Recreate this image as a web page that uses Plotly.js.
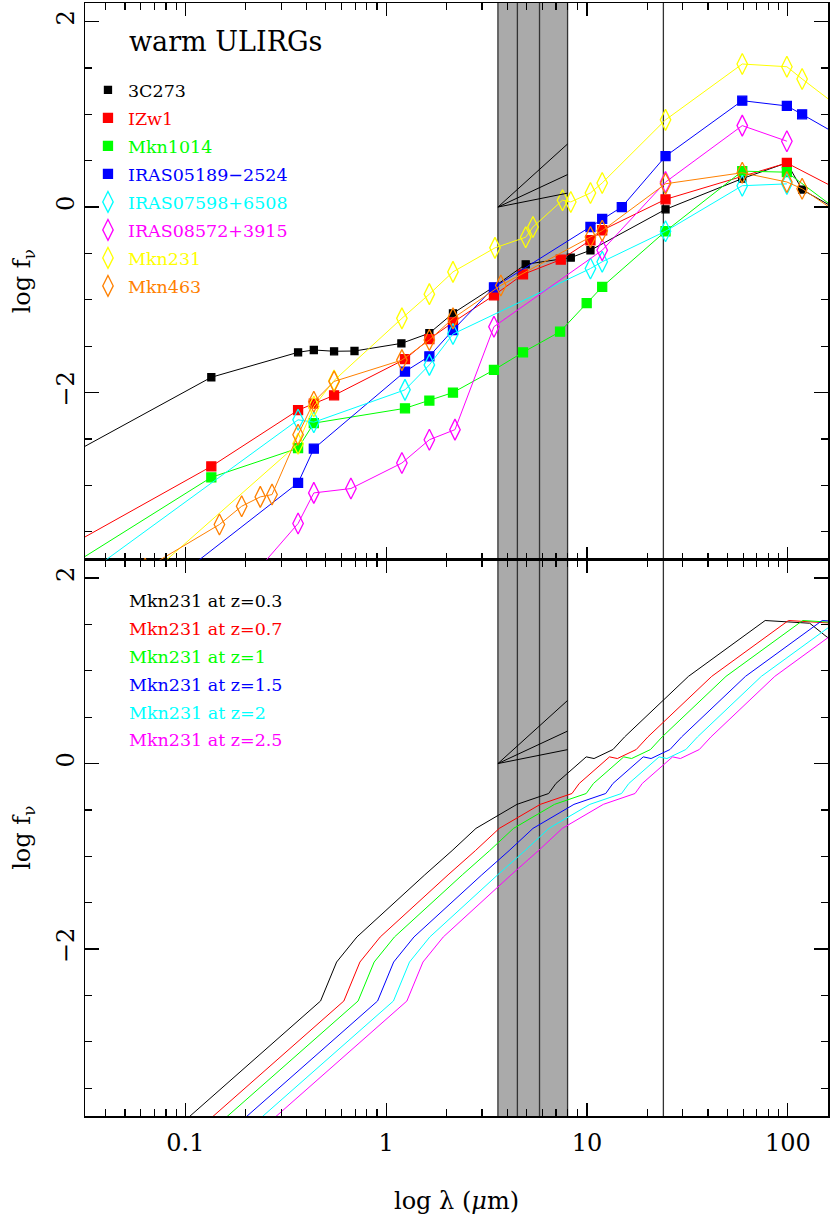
<!DOCTYPE html>
<html><head><meta charset="utf-8">
<script src="https://cdn.plot.ly/plotly-3.0.1.min.js"></script>
<style>html,body{margin:0;padding:0;background:#fff;}#chart{width:830px;height:1217px;}</style>
</head><body><div id="chart"></div>
<script>
// ---------- top panel: observed SEDs (lambda in micron, log f_nu) ----------
const lam3C273 = [0.025, 0.1346, 0.364, 0.436, 0.55, 0.695, 1.19, 1.64, 2.15, 3.44, 4.95, 8.3, 10.4, 24.6, 59.3, 98.9, 117.8, 200];
const f3C273   = [-2.70, -1.835, -1.566, -1.541, -1.555, -1.552, -1.47, -1.36, -1.146, -0.86, -0.617, -0.545, -0.466, -0.025, 0.307, 0.477, 0.188, -0.095];

const lamIZw1 = [0.025, 0.1346, 0.364, 0.436, 0.55, 1.24, 1.64, 2.15, 3.44, 4.8, 7.4, 10.4, 11.9, 24.6, 98.9, 200];
const fIZw1   = [-3.68, -2.796, -2.19, -2.12, -2.03, -1.64, -1.423, -1.243, -0.952, -0.726, -0.567, -0.358, -0.25, 0.083, 0.475, 0.132];

const lamMkn1014 = [0.025, 0.1346, 0.364, 0.436, 1.24, 1.64, 2.15, 3.44, 4.8, 7.34, 9.96, 11.9, 24.6, 59.3, 98.9, 200];
const fMkn1014   = [-3.906, -2.914, -2.6, -2.33, -2.17, -2.086, -2.0, -1.756, -1.566, -1.344, -1.035, -0.86, -0.261, 0.387, 0.376, -0.12];

const lamI05189 = [0.1, 0.364, 0.436, 1.24, 1.64, 2.15, 3.44, 10.4, 11.9, 14.9, 24.6, 59.3, 98.9, 117.8, 200];
const fI05189   = [-3.92, -2.974, -2.605, -1.774, -1.609, -1.326, -0.866, -0.215, -0.127, 0.0, 0.548, 1.147, 1.09, 1.0, 0.715];

const lamI07598 = [0.025, 0.364, 0.436, 1.24, 1.64, 2.15, 10.4, 11.9, 24.6, 59.3, 98.9];
const fI07598   = [-4.13, -2.294, -2.32, -1.971, -1.702, -1.369, -0.663, -0.59, -0.261, 0.23, 0.25];

const lamI08572 = [0.2, 0.364, 0.436, 0.667, 1.197, 1.64, 2.2, 3.44, 11.9, 24.6, 59.3, 98.9];
const fI08572   = [-4.06, -3.412, -3.082, -3.035, -2.76, -2.509, -2.40, -1.29, -0.466, 0.269, 0.878, 0.71];

const lamMkn231 = [0.05, 0.364, 0.436, 0.55, 1.197, 1.64, 2.15, 3.48, 4.95, 5.38, 7.55, 8.3, 10.4, 11.9, 24.6, 59.3, 98.9, 117.8, 200];
const fMkn231   = [-4.2, -2.552, -2.15, -1.87, -1.2, -0.939, -0.699, -0.44, -0.325, -0.215, 0.074, 0.055, 0.152, 0.26, 0.94, 1.542, 1.513, 1.381, 1.0];

const lamMkn463 = [0.063, 0.1477, 0.1906, 0.236, 0.27, 0.364, 0.436, 0.55, 1.197, 1.64, 2.15, 3.72, 10.4, 11.9, 24.6, 59.3, 98.9, 117.8, 200];
const fMkn463   = [-3.90, -3.423, -3.226, -3.125, -3.10, -2.455, -2.10, -1.88, -1.65, -1.433, -1.2, -0.845, -0.323, -0.255, 0.251, 0.37, 0.27, 0.198, -0.14];

const topNames  = ['3C273', 'IZw1', 'Mkn1014', 'IRAS05189\u22122524', 'IRAS07598+6508', 'IRAS08572+3915', 'Mkn231', 'Mkn463'];
const topColors = ['#000000', '#ff0000', '#00ff00', '#0000ff', '#00ffff', '#ff00ff', '#ffff00', '#ff8000'];

// ---------- bottom panel: Mkn231 template redshifted (log lambda in micron, log f_nu) ----------
const logLamZ03 = [-1.186, -0.327, -0.247, -0.146, 0.192, 0.328, 0.447, 0.651, 0.809, 0.845, 0.996, 1.035, 1.129, 1.187, 1.505, 1.887, 2.109, 2.185, 2.414];
const logLamZ07 = [-1.070, -0.211, -0.131, -0.030, 0.308, 0.444, 0.563, 0.767, 0.925, 0.961, 1.112, 1.151, 1.245, 1.303, 1.621, 2.003, 2.225, 2.301, 2.530];
const logLamZ10 = [-0.999, -0.140, -0.060, 0.041, 0.379, 0.515, 0.634, 0.838, 0.996, 1.032, 1.183, 1.222, 1.316, 1.374, 1.692, 2.074, 2.296, 2.372, 2.601];
const logLamZ15 = [-0.902, -0.043, 0.037, 0.138, 0.476, 0.612, 0.731, 0.935, 1.093, 1.129, 1.280, 1.319, 1.413, 1.471, 1.789, 2.171, 2.393, 2.469, 2.698];
const logLamZ20 = [-0.823, 0.036, 0.116, 0.217, 0.555, 0.691, 0.810, 1.014, 1.172, 1.208, 1.359, 1.398, 1.492, 1.550, 1.868, 2.250, 2.472, 2.548, 2.777];
const logLamZ25 = [-0.756, 0.103, 0.183, 0.284, 0.622, 0.758, 0.877, 1.081, 1.239, 1.275, 1.426, 1.465, 1.559, 1.617, 1.935, 2.317, 2.539, 2.615, 2.844];
const fMkn231z  = [-4.2, -2.56, -2.14, -1.87, -1.2, -0.939, -0.699, -0.44, -0.323, -0.215, 0.072, 0.054, 0.151, 0.287, 0.94, 1.542, 1.513, 1.381, 1.004];

const zLabels = ['Mkn231 at z=0.3', 'Mkn231 at z=0.7', 'Mkn231 at z=1', 'Mkn231 at z=1.5', 'Mkn231 at z=2', 'Mkn231 at z=2.5'];
const zColors = ['#000000', '#ff0000', '#00ff00', '#0000ff', '#00ffff', '#ff00ff'];
const zLabelY = [1.75, 1.45, 1.15, 0.85, 0.55, 0.25];

// ---------- filter bands and reference slopes ----------
const iracBands = [3.6, 4.5, 5.8, 8.0];
const mipsBand  = 24;
const wedgeLam  = [3.6, 8.0, null, 3.6, 8.0, null, 3.6, 8.0];
const wedgeLogF = [0, 0.68, null, 0, 0.35, null, 0, 0.15];

// ---------- build traces ----------
const serif = 'DejaVu Serif';
const topSeries = [
  {x: lam3C273, y: f3C273, sym: 'square', size: 7},
  {x: lamIZw1, y: fIZw1, sym: 'square', size: 9},
  {x: lamMkn1014, y: fMkn1014, sym: 'square', size: 9},
  {x: lamI05189, y: fI05189, sym: 'square', size: 9},
  {x: lamI07598, y: fI07598, sym: 'diamond-tall-open', size: 15},
  {x: lamI08572, y: fI08572, sym: 'diamond-tall-open', size: 15},
  {x: lamMkn231, y: fMkn231, sym: 'diamond-tall-open', size: 15},
  {x: lamMkn463, y: fMkn463, sym: 'diamond-tall-open', size: 15}
];

const traces = [];
topSeries.forEach((s, i) => {
  traces.push({x: s.x, y: s.y, xaxis: 'x2', yaxis: 'y2', mode: 'lines', type: 'scatter',
    line: {color: topColors[i], width: 1}, showlegend: false, hoverinfo: 'skip'});
  traces.push({x: s.x, y: s.y, xaxis: 'x2', yaxis: 'y2', mode: 'markers', type: 'scatter',
    marker: {symbol: s.sym, size: s.size, color: topColors[i], line: {color: topColors[i], width: 1.3}},
    name: '<span style="color:' + topColors[i] + '">' + topNames[i] + '</span>',
    legendgroup: 'g' + i, showlegend: true});
});
traces.push({x: wedgeLam, y: wedgeLogF, xaxis: 'x2', yaxis: 'y2', mode: 'lines', type: 'scatter',
  line: {color: '#000', width: 1}, showlegend: false, hoverinfo: 'skip'});

const zLogLam = [logLamZ03, logLamZ07, logLamZ10, logLamZ15, logLamZ20, logLamZ25];
zLogLam.forEach((arr, i) => {
  traces.push({x: arr.map(v => Math.pow(10, v)), y: fMkn231z, xaxis: 'x', yaxis: 'y', mode: 'lines', type: 'scatter',
    line: {color: zColors[i], width: 1}, showlegend: false, name: zLabels[i]});
});
traces.push({x: wedgeLam, y: wedgeLogF, xaxis: 'x', yaxis: 'y', mode: 'lines', type: 'scatter',
  line: {color: '#000', width: 1}, showlegend: false, hoverinfo: 'skip'});

// ---------- shapes ----------
const shapes = [{type: 'rect', xref: 'x', yref: 'paper', x0: iracBands[0], x1: iracBands[iracBands.length - 1],
  y0: 0, y1: 1, fillcolor: '#aaaaaa', line: {width: 0}, layer: 'below'}];
iracBands.concat([mipsBand]).forEach(v => {
  shapes.push({type: 'line', xref: 'x', yref: 'paper', x0: v, x1: v, y0: 0, y1: 1,
    line: {color: '#333333', width: 1.3}, layer: 'below'});
});

// ---------- annotations ----------
const annotations = [{text: 'warm ULIRGs', xref: 'paper', yref: 'y2', x: 0.0561, y: 1.78, xanchor: 'left', yanchor: 'middle',
  showarrow: false, font: {family: serif, size: 27, color: '#000'}}];
zLabels.forEach((t, i) => {
  annotations.push({text: t, xref: 'paper', yref: 'y', x: 0.0561, y: zLabelY[i], xanchor: 'left', yanchor: 'middle',
    showarrow: false, font: {family: serif, size: 17.5, color: zColors[i]}});
});

// ---------- axes ----------
const xBase = {type: 'log', range: [-1.5, 2.2], dtick: 1, ticks: 'inside', ticklen: 13, tickwidth: 1.2, tickcolor: '#000',
  showline: true, linecolor: '#000', linewidth: 1.5, mirror: 'ticks', showgrid: false, zeroline: false,
  tickfont: {family: serif, size: 24, color: '#000'}, ticklabelstandoff: 5,
  minor: {dtick: 'D1', ticks: 'inside', ticklen: 7, tickwidth: 1.2, tickcolor: '#000', showgrid: false}};
const yBase = {range: [-3.8, 2.2], dtick: 2, tick0: 0, ticks: 'inside', ticklen: 14, tickwidth: 1.2, tickcolor: '#000',
  showline: true, linecolor: '#000', linewidth: 1.5, mirror: 'ticks', showgrid: false, zeroline: false, tickangle: -90,
  tickfont: {family: serif, size: 24, color: '#000'},
  title: {text: 'log f<sub>\u03bd</sub>', font: {family: serif, size: 24, color: '#000'}, standoff: 14},
  minor: {dtick: 0.5, ticks: 'inside', ticklen: 7, tickwidth: 1.2, tickcolor: '#000', showgrid: false}};

const layout = {
  width: 830, height: 1217,
  margin: {l: 85, r: 2, t: 3, b: 101},
  paper_bgcolor: '#fff', plot_bgcolor: '#fff',
  font: {family: serif, color: '#000'},
  xaxis: Object.assign({}, xBase, {anchor: 'y',
    title: {text: 'log \u03bb (<i>\u03bc</i>m)', font: {family: serif, size: 24, color: '#000'}, standoff: 36}}),
  xaxis2: Object.assign({}, xBase, {anchor: 'y2', matches: 'x', showticklabels: false}),
  yaxis: Object.assign({}, yBase, {domain: [0, 0.5], anchor: 'x'}),
  yaxis2: Object.assign({}, yBase, {domain: [0.5, 1], anchor: 'x2'}),
  showlegend: true,
  legend: {x: 0.004, xanchor: 'left', y: 0.938, yanchor: 'top', bgcolor: 'rgba(0,0,0,0)', borderwidth: 0,
    font: {family: serif, size: 17.5, color: '#000'}, tracegroupgap: 2.25, itemclick: false, itemdoubleclick: false},
  shapes: shapes,
  annotations: annotations
};

Plotly.newPlot('chart', traces, layout, {staticPlot: true, displayModeBar: false});
</script>
</body></html>
